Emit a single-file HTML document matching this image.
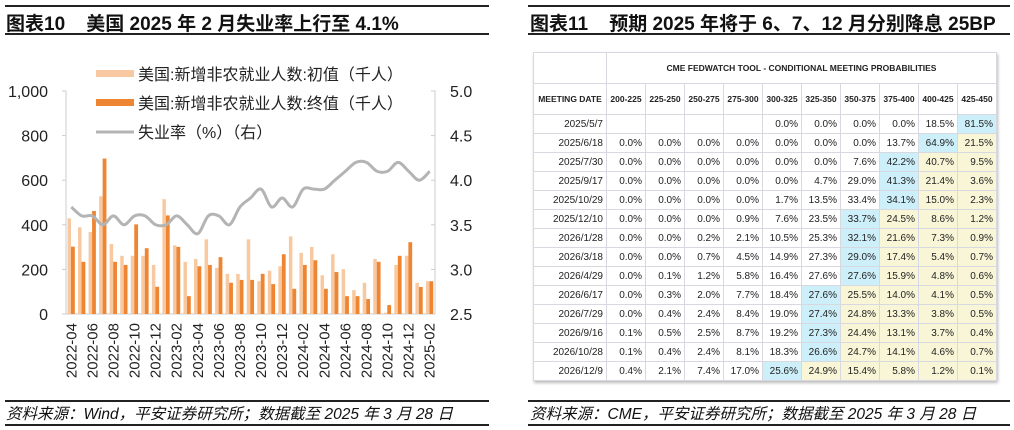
<!DOCTYPE html>
<html><head><meta charset="utf-8"><style>
body{margin:0;width:1014px;height:430px;background:#fff;font-family:"Liberation Sans","Noto Sans CJK SC",sans-serif;position:relative;overflow:hidden}
.hl{position:absolute;height:2px;background:#222}
.ttl{position:absolute;top:9px;font-size:19px;font-weight:bold;color:#111;white-space:nowrap}
.src{position:absolute;top:402px;font-size:15.5px;font-style:italic;color:#111;white-space:nowrap}
table{position:absolute;left:533px;top:52px;border-collapse:collapse;font-size:10px;color:#222;box-shadow:1px 2px 3px #bbb}
td{border:1px solid #d8d8e0;height:18px;padding:0 3px;text-align:right;width:32px}
td.d{width:66px}
tr.h td{font-weight:bold;font-size:8.5px;text-align:center;height:30px}
.b{background:#cdeffa}.y{background:#f8f6d6}
</style></head><body>
<div class="hl" style="left:5px;top:5px;width:484px"></div>
<div class="hl" style="left:5px;top:33px;width:484px"></div>
<div class="ttl" style="left:6px">图表10&nbsp;&nbsp;&nbsp;&nbsp;美国 2025 年 2 月失业率上行至 4.1%</div>
<div class="hl" style="left:5px;top:400px;width:484px"></div>
<div class="hl" style="left:5px;top:424px;width:484px"></div>
<div class="src" style="left:6px">资料来源：Wind，平安证券研究所；数据截至 2025 年 3 月 28 日</div>

<div class="hl" style="left:528px;top:5px;width:482px"></div>
<div class="hl" style="left:528px;top:33px;width:482px"></div>
<div class="ttl" style="left:530px">图表11&nbsp;&nbsp;&nbsp;&nbsp;预期 2025 年将于 6、7、12 月分别降息 25BP</div>
<div class="hl" style="left:528px;top:400px;width:482px"></div>
<div class="hl" style="left:528px;top:424px;width:482px"></div>
<div class="src" style="left:530px">资料来源：CME，平安证券研究所；数据截至 2025 年 3 月 28 日</div>

<svg id="c" width="500" height="400" style="position:absolute;left:0;top:0"></svg>
<table id="t"></table>
<script>
const months=[];for(let i=0;i<35;i++){const y=2022+Math.floor((i+3)/12),m=(i+3)%12+1;months.push(y+'-'+String(m).padStart(2,'0'));}
const prelim=[429,389,368,528,314,261,261,261,220,515,308,234,247,335,207,180,180,335,147,194,214,348,274,301,174,268,201,107,140,247,6,220,261,140,147];
const finalV=[302,234,462,697,234,220,402,295,122,442,301,80,214,220,255,140,153,153,180,134,268,113,220,241,113,188,80,80,67,234,40,261,322,121,147];
const unemp=[3.7,3.6,3.6,3.5,3.6,3.5,3.6,3.6,3.5,3.5,3.6,3.5,3.4,3.6,3.6,3.5,3.7,3.8,3.9,3.7,3.8,3.7,3.9,3.9,3.9,4.0,4.1,4.2,4.2,4.1,4.1,4.2,4.1,4.0,4.1];
const leftTicks=[0,200,400,600,800,1000];
const rightTicks=[2.5,3.0,3.5,4.0,4.5,5.0];
const NS='http://www.w3.org/2000/svg',svg=document.getElementById('c');
const X0=66,X1=435,Y0=314,Y1=91,bw=(X1-X0)/months.length;
const yL=v=>Y0-(v/1000)*(Y0-Y1), yR=v=>Y0-((v-2.5)/2.5)*(Y0-Y1);
function el(t,a,txt){const e=document.createElementNS(NS,t);for(const k in a)e.setAttribute(k,a[k]);if(txt!=null)e.textContent=txt;svg.appendChild(e);return e;}
let e;
e=el('path',{d:`M${X0-4} ${Y1}H${X0}V${Y0}H${X1}V${Y1}H${X1-4}`,fill:'none',stroke:'#ccc'});


leftTicks.forEach(v=>{e=el('text',{x:48,y:yL(v)+6,'text-anchor':'end','font-size':16,fill:'#222'},v.toLocaleString('en-US'));


el('line',{x1:X0-4,x2:X0,y1:yL(v),y2:yL(v),stroke:'#ccc'});});
rightTicks.forEach(v=>{e=el('text',{x:450,y:yR(v)+6,'font-size':16,fill:'#222'},v.toFixed(1));


el('line',{x1:X1,x2:X1-4,y1:yR(v),y2:yR(v),stroke:'#ccc'});});
months.forEach((m,i)=>{const x=X0+i*bw;
e=el('rect',{x:x+1.5,y:yL(prelim[i]),width:3.5,height:Y0-yL(prelim[i]),fill:'#f8c9a0'});


e=el('rect',{x:x+5,y:yL(finalV[i]),width:3.8,height:Y0-yL(finalV[i]),fill:'#ed8533'});


if(i%2==0){const cx=x+bw/2+5;e=el('text',{x:0,y:0,'text-anchor':'end','font-size':15,fill:'#222',transform:`translate(${cx},${323}) rotate(-90)`},m);

}
});
const pts=unemp.map((v,i)=>[X0+i*bw+bw/2,yR(v)]);
let d='M'+pts[0][0]+' '+pts[0][1];
for(let i=0;i<pts.length-1;i++){const p0=pts[Math.max(i-1,0)],p1=pts[i],p2=pts[i+1],p3=pts[Math.min(i+2,pts.length-1)];
d+=`C${p1[0]+(p2[0]-p0[0])/6} ${p1[1]+(p2[1]-p0[1])/6},${p2[0]-(p3[0]-p1[0])/6} ${p2[1]-(p3[1]-p1[1])/6},${p2[0]} ${p2[1]}`;}
e=el('path',{d:d,fill:'none',stroke:'#b4b4b4','stroke-width':3,'stroke-linejoin':'round'});


const leg=[['rect','#f8c9a0','美国:新增非农就业人数:初值（千人）'],['rect','#ed8533','美国:新增非农就业人数:终值（千人）'],['line','#b4b4b4','失业率（%）（右）']];
leg.forEach((l,i)=>{const y=74+i*29;
if(l[0]=='rect')e=el('rect',{x:96,y:y-4,width:38,height:7,fill:l[1]});else e=el('line',{x1:96,x2:134,y1:y,y2:y,stroke:l[1],'stroke-width':3});


e=el('text',{x:138,y:y+6,'font-size':16,fill:'#222'},l[2]);

});

const cols=['200-225','225-250','250-275','275-300','300-325','325-350','350-375','375-400','400-425','425-450'];
const dates=['2025/5/7','2025/6/18','2025/7/30','2025/9/17','2025/10/29','2025/12/10','2026/1/28','2026/3/18','2026/4/29','2026/6/17','2026/7/29','2026/9/16','2026/10/28','2026/12/9'];
const probs=[
[null,null,null,null,0,0,0,0,18.5,81.5],
[0,0,0,0,0,0,0,13.7,64.9,21.5],
[0,0,0,0,0,0,7.6,42.2,40.7,9.5],
[0,0,0,0,0,4.7,29.0,41.3,21.4,3.6],
[0,0,0,0,1.7,13.5,33.4,34.1,15.0,2.3],
[0,0,0,0.9,7.6,23.5,33.7,24.5,8.6,1.2],
[0,0,0.2,2.1,10.5,25.3,32.1,21.6,7.3,0.9],
[0,0,0.7,4.5,14.9,27.3,29.0,17.4,5.4,0.7],
[0,0.1,1.2,5.8,16.4,27.6,27.6,15.9,4.8,0.6],
[0,0.3,2.0,7.7,18.4,27.6,25.5,14.0,4.1,0.5],
[0,0.4,2.4,8.4,19.0,27.4,24.8,13.3,3.8,0.5],
[0.1,0.5,2.5,8.7,19.2,27.3,24.4,13.1,3.7,0.4],
[0.1,0.4,2.4,8.1,18.3,26.6,24.7,14.1,4.6,0.7],
[0.4,2.1,7.4,17.0,25.6,24.9,15.4,5.8,1.2,0.1]];
const blueIdx=[9,8,7,7,7,6,6,6,6,5,5,5,5,4];
let h='<tr class="h"><td class="d"></td><td colspan="10">CME FEDWATCH TOOL - CONDITIONAL MEETING PROBABILITIES</td></tr>';
h+='<tr class="h"><td class="d">MEETING DATE</td>'+cols.map(c=>'<td>'+c+'</td>').join('')+'</tr>';
dates.forEach((d,r)=>{h+='<tr><td class="d">'+d+'</td>';
probs[r].forEach((v,c)=>{const cl=c==blueIdx[r]?'b':(c>blueIdx[r]?'y':'');h+='<td class="'+cl+'">'+(v==null?'':v.toFixed(1)+'%')+'</td>';});h+='</tr>';});
document.getElementById('t').innerHTML=h;
</script>
</body></html>
